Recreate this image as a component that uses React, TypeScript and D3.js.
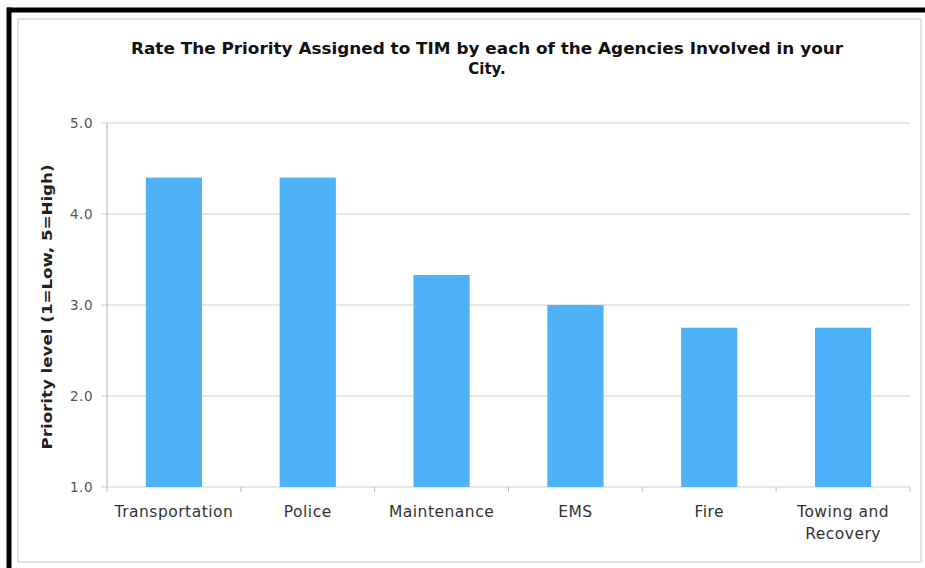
import React from "react";
import * as d3 from "d3";

const categories = ["Transportation", "Police", "Maintenance", "EMS", "Fire", "Towing and Recovery"];
const values = [4.4, 4.4, 3.33, 3.0, 2.75, 2.75];
const yTicks = [1, 2, 3, 4, 5];
const titleLines = ["Rate The Priority Assigned to TIM by each of the Agencies Involved in your", "City."];
const yLabel = "Priority level (1=Low, 5=High)";

const W = 925, H = 568;
const plot = { left: 107, right: 910, top: 123, bottom: 487 };
const font = "Verdana, 'DejaVu Sans', sans-serif";

export default function App() {
  const x = d3.scaleBand<string>().domain(categories).range([plot.left, plot.right]).paddingInner(0).paddingOuter(0);
  const y = d3.scaleLinear().domain([1, 5]).range([plot.bottom, plot.top]);
  const bw = x.bandwidth() * 0.42;
  const labelLines = (c: string) => (c === "Towing and Recovery" ? ["Towing and", "Recovery"] : [c]);
  return (
    <svg width={W} height={H} style={{ position: "absolute", left: 0, top: 0, background: "#fff" }} fontFamily={font}>
      <rect x={0} y={0} width={W} height={H} fill="#fff" />
      {/* black frame edges */}
      <rect x={7} y={7.5} width={W - 7} height={5} fill="#000" />
      <rect x={6.5} y={7.5} width={5} height={H - 7.5} fill="#000" />
      {/* inner light frame */}
      <rect x={18} y={19} width={903} height={543} fill="none" stroke="#e2e2e2" strokeWidth={2} />
      {/* title */}
      {titleLines.map((t, i) => (
        <text key={i} x={487} y={54 + i * 20} textAnchor="middle" fontSize={15} fontWeight="bold" fill="#111"
          textLength={i === 0 ? 712 : undefined} lengthAdjust="spacingAndGlyphs">{t}</text>
      ))}
      {/* gridlines */}
      {yTicks.map((t) => (
        <line key={t} x1={plot.left - 6} x2={plot.right} y1={y(t)} y2={y(t)} stroke="#cfcfcf" strokeWidth={1.2} />
      ))}
      {/* y axis */}
      <line x1={plot.left} x2={plot.left} y1={plot.top} y2={plot.bottom} stroke="#bdbdbd" strokeWidth={1.2} />
      {yTicks.map((t) => (
        <text key={t} x={93} y={y(t) + 5} textAnchor="end" fontSize={13.5} fill="#555" letterSpacing={0.5}>{d3.format(".1f")(t)}</text>
      ))}
      {/* x ticks */}
      {categories.map((c) => (
        <line key={c} x1={x(c) as number} x2={x(c) as number} y1={plot.bottom} y2={plot.bottom + 5} stroke="#bdbdbd" />
      ))}
      <line x1={plot.right} x2={plot.right} y1={plot.bottom} y2={plot.bottom + 5} stroke="#bdbdbd" />
      {/* bars */}
      {categories.map((c, i) => {
        const cx = (x(c) as number) + x.bandwidth() / 2;
        return (
          <rect key={c} x={cx - bw / 2} y={y(values[i])} width={bw} height={y(1) - y(values[i])} fill="#4db2f8" />
        );
      })}
      {/* x labels */}
      {categories.map((c) => {
        const cx = (x(c) as number) + x.bandwidth() / 2;
        return labelLines(c).map((l, j) => (
          <text key={c + j} x={cx} y={517 + j * 22} textAnchor="middle" fontSize={15.5} letterSpacing={0.5} fill="#333">{l}</text>
        ));
      })}
      {/* y label */}
      <text transform={`translate(52,${(plot.top + plot.bottom) / 2 + 2}) rotate(-90)`} textAnchor="middle" fontSize={14.5}
        fontWeight="bold" fill="#222" textLength={285} lengthAdjust="spacingAndGlyphs">{yLabel}</text>
    </svg>
  );
}
